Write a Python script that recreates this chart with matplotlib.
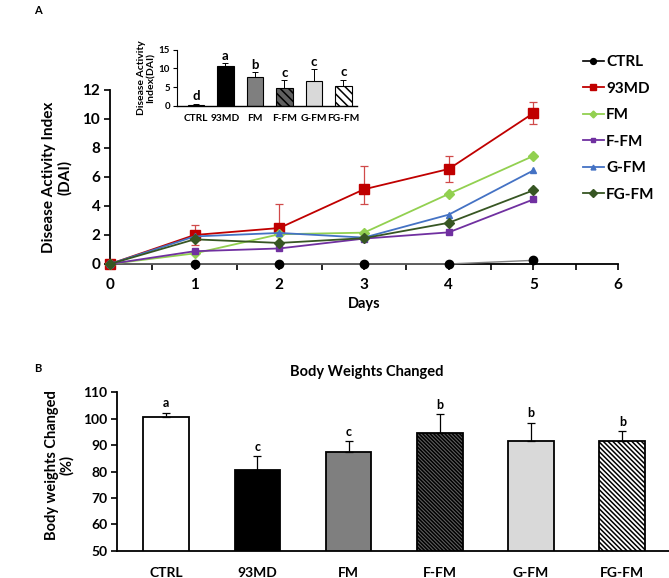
import numpy as np
import matplotlib
matplotlib.use("Agg")
from matplotlib import pyplot as plt
from matplotlib import rcParams

rcParams['font.family'] = ['Lato', 'DejaVu Sans']
rcParams['font.weight'] = 'bold'
rcParams['axes.labelweight'] = 'bold'
rcParams['hatch.linewidth'] = 1.1

# ---- data ----
days = [0, 1, 2, 3, 4, 5]
groups = ['CTRL', '93MD', 'FM', 'F-FM', 'G-FM', 'FG-FM']

dai_ctrl = [0, 0, 0, 0, 0, 0.25]
dai_93md = [0, 2.0, 2.48, 5.15, 6.55, 10.4]
dai_93md_lo = [0, 0.7, 1.0, 1.0, 0.93, 0.75]
dai_93md_hi = [0, 0.7, 1.63, 1.6, 0.93, 0.75]
dai_fm = [0, 0.73, 2.05, 2.16, 4.83, 7.45]
dai_ffm = [0, 0.88, 1.07, 1.75, 2.18, 4.45]
dai_gfm = [0, 1.9, 2.14, 1.82, 3.4, 6.45]
dai_fgfm = [0, 1.7, 1.45, 1.78, 2.84, 5.08]

# inset: DAI at end point
dai_bar = [0.3, 10.6, 7.6, 4.7, 6.7, 5.3]
dai_bar_err = [0.2, 0.8, 1.4, 2.1, 3.1, 1.6]
dai_letters = ['d', 'a', 'b', 'c', 'c', 'c']

# panel B
bw = [100.6, 80.5, 87.3, 94.7, 91.7, 91.5]
bw_err = [1.7, 5.2, 4.1, 7.1, 6.8, 3.8]
bw_letters = ['a', 'c', 'c', 'b', 'b', 'b']

bar_face = ['white', 'black', '#7f7f7f', '#5f5f5f', '#d9d9d9', 'white']
bar_hatch = [None, None, None, '\\' * 9, None, '\\' * 7]
ins_hatch = [None, None, None, '\\' * 4, None, '\\' * 4]

fig = plt.figure(figsize=(6.69, 5.78), dpi=100)

# ---- panel A : line chart ----
ax = fig.add_axes([0.1644, 0.5433, 0.7594, 0.301])

series = [
    ('CTRL', dai_ctrl, 'black', 'o', 6),
    ('93MD', dai_93md, '#c00000', 's', 6.5),
    ('FM', dai_fm, '#92d050', 'D', 5),
    ('F-FM', dai_ffm, '#7030a0', 's', 5),
    ('G-FM', dai_gfm, '#4472c4', '^', 5),
    ('FG-FM', dai_fgfm, '#375623', 'D', 5.5),
]
handles = []
for name, vals, col, mk, ms in series:
    if name == 'CTRL':
        ax.plot(days, vals, color='#808080', lw=1.0, marker=mk, ms=ms,
                mfc=col, mec=col, zorder=3, clip_on=False)
        # legend handle with black line
        h, = ax.plot([], [], color='black', lw=1.2, marker=mk, ms=ms)
        handles.append(h)
        continue
    if name == '93MD':
        ax.errorbar(days, vals, yerr=[dai_93md_lo, dai_93md_hi], fmt='none',
                    ecolor='#d04a4a', elinewidth=0.9, capsize=3, capthick=0.9,
                    zorder=2)
    ln, = ax.plot(days, vals, color=col, lw=1.3, marker=mk, ms=ms,
                  mfc=col, mec=col, zorder=4, clip_on=False)
    handles.append(ln)

ax.set_xlim(0, 6)
ax.set_ylim(0, 12)
ax.set_xticks([0, 1, 2, 3, 4, 5, 6])
ax.set_xticks(np.arange(0.5, 6, 1), minor=True)
ax.set_yticks([0, 2, 4, 6, 8, 10, 12])
ax.tick_params(axis='both', which='both', direction='out', length=4, width=1.2,
               labelsize=11)
ax.tick_params(axis='x', pad=6)
ax.tick_params(axis='y', pad=3)
for s in ['top', 'right']:
    ax.spines[s].set_visible(False)
for s in ['left', 'bottom']:
    ax.spines[s].set_linewidth(1.3)
ax.set_xlabel('Days', fontsize=10.5)
ax.xaxis.set_label_coords(0.5, -0.19)
ax.set_ylabel('Disease Activity Index\n(DAI)', fontsize=11, linespacing=1.1)
ax.yaxis.set_label_coords(-0.075, 0.5)

fig.legend(handles=handles, labels=groups, loc='upper left',
           bbox_to_anchor=(583 / 669, 1 - 55 / 578), frameon=False,
           handlelength=1.35, handletextpad=0.15, markerscale=0.7,
           labelspacing=0.82, borderpad=0, borderaxespad=0,
           prop={'weight': 'bold', 'size': 11})

# ---- inset bar chart ----
ins = fig.add_axes([177 / 669, 1 - 105.7 / 578, 180 / 669, 56 / 578])
xi = np.arange(len(groups))
for i in range(len(groups)):
    ins.bar(xi[i], dai_bar[i], width=0.55, color=bar_face[i], edgecolor='black',
            lw=0.8, hatch=ins_hatch[i])
    ins.errorbar(xi[i], dai_bar[i], yerr=[[0], [dai_bar_err[i]]], fmt='none',
                 ecolor='black', elinewidth=0.7, capsize=2, capthick=0.7)
    ins.text(xi[i], dai_bar[i] + dai_bar_err[i] + 0.4, dai_letters[i],
             ha='center', va='bottom', fontsize=9.5)
ins.set_xlim(-0.64, 5.46)
ins.set_ylim(0, 15)
ins.set_yticks([0, 5, 10, 15])
ins.set_xticks(xi)
ins.set_xticklabels(groups)
ins.tick_params(axis='y', direction='out', length=3, width=0.8, labelsize=7, pad=2)
ins.tick_params(axis='x', length=0, labelsize=7.3, pad=6)
for s in ['top', 'right']:
    ins.spines[s].set_visible(False)
ins.spines['left'].set_linewidth(0.8)
ins.spines['bottom'].set_linewidth(1.0)
ins.set_ylabel('Disease Activity\nIndex(DAI)', fontsize=7.5, linespacing=1.05)
ins.yaxis.set_label_coords(-0.12, 0.5)

# ---- panel B : body weight bars ----
axb = fig.add_axes([117 / 669, 1 - 550.7 / 578, 560 / 669, 158.4 / 578])
xb = np.arange(len(groups))
for i in range(len(groups)):
    axb.bar(xb[i], bw[i], width=0.5, color=bar_face[i], edgecolor='black',
            lw=1.3, hatch=bar_hatch[i], bottom=0)
    axb.errorbar(xb[i], bw[i], yerr=[[0], [bw_err[i]]], fmt='none',
                 ecolor='black', elinewidth=0.9, capsize=3, capthick=0.9)
    axb.text(xb[i], bw[i] + bw_err[i] + 1.2, bw_letters[i], ha='center',
             va='bottom', fontsize=9)
axb.set_xlim(-0.54, 5.6)
axb.set_ylim(50, 110)
axb.set_yticks(np.arange(50, 111, 10))
axb.set_xticks(xb)
axb.set_xticklabels(groups)
axb.tick_params(axis='y', direction='out', length=4, width=1.2, labelsize=10, pad=3)
axb.tick_params(axis='x', length=0, labelsize=10, pad=12)
for s in ['top', 'right']:
    axb.spines[s].set_visible(False)
axb.spines['left'].set_linewidth(1.3)
axb.spines['bottom'].set_linewidth(1.3)
axb.set_ylabel('Body weights Changed\n(%)', fontsize=10.5, linespacing=1.1)
axb.yaxis.set_label_coords(-0.076, 0.54)

fig.text(367 / 669, 1 - 372 / 578, 'Body Weights Changed', ha='center',
         va='center', fontsize=10.5)
fig.text(38 / 669, 1 - 11 / 578, 'A', ha='center', va='center', fontsize=8)
fig.text(38 / 669, 1 - 368 / 578, 'B', ha='center', va='center', fontsize=8)

fig.savefig('out.png', dpi=100)
